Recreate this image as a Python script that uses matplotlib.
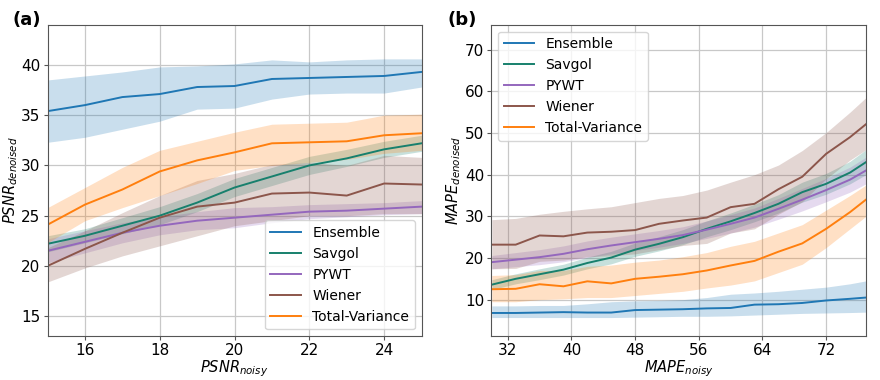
import numpy as np
import matplotlib.pyplot as plt

methods = ['Ensemble', 'Savgol', 'PYWT', 'Wiener', 'Total-Variance']
colors = ['#1f77b4', '#17806d', '#9467bd', '#8c564b', '#ff7f0e']

# (a) PSNR
psnr_noisy = [15, 16, 17, 18, 19, 20, 21, 22, 23, 24, 25]
psnr_mean = {
    'Ensemble':       [35.4, 36.0, 36.8, 37.1, 37.8, 37.9, 38.6, 38.7, 38.8, 38.9, 39.3],
    'Savgol':         [22.2, 23.0, 24.0, 25.0, 26.3, 27.8, 28.9, 30.0, 30.7, 31.6, 32.2],
    'PYWT':           [21.5, 22.4, 23.3, 24.0, 24.5, 24.8, 25.1, 25.4, 25.5, 25.7, 25.9],
    'Wiener':         [20.0, 21.7, 23.3, 24.8, 25.9, 26.3, 27.2, 27.3, 27.0, 28.2, 28.1],
    'Total-Variance': [24.1, 26.1, 27.6, 29.4, 30.5, 31.3, 32.2, 32.3, 32.4, 33.0, 33.2],
}
psnr_low = {
    'Ensemble':       [32.3, 32.8, 33.6, 34.4, 35.6, 35.7, 36.6, 37.1, 37.2, 37.2, 37.8],
    'Savgol':         [21.4, 22.3, 23.2, 24.1, 25.4, 26.9, 28.0, 29.1, 29.9, 30.8, 31.4],
    'PYWT':           [20.3, 21.3, 22.3, 23.1, 23.6, 23.8, 24.3, 24.7, 24.9, 25.1, 25.2],
    'Wiener':         [18.4, 19.8, 21.0, 22.0, 23.0, 24.0, 24.5, 25.0, 25.0, 25.2, 25.2],
    'Total-Variance': [22.3, 24.5, 25.8, 27.0, 28.2, 29.5, 30.0, 30.3, 30.6, 31.2, 31.5],
}
psnr_high = {
    'Ensemble':       [38.5, 38.9, 39.3, 39.8, 39.9, 40.1, 40.5, 40.3, 40.5, 40.6, 40.6],
    'Savgol':         [23.0, 23.7, 24.8, 25.9, 27.2, 28.7, 29.8, 30.9, 31.6, 32.4, 33.0],
    'PYWT':           [22.7, 23.5, 24.3, 24.9, 25.4, 25.8, 25.9, 26.1, 26.2, 26.3, 26.5],
    'Wiener':         [21.8, 23.5, 25.3, 27.0, 28.5, 29.2, 30.1, 30.3, 30.0, 31.0, 30.8],
    'Total-Variance': [25.8, 27.8, 29.8, 31.5, 32.4, 33.3, 34.1, 34.2, 34.3, 35.0, 35.1],
}

# (b) MAPE
mape_noisy = [30, 33, 36, 39, 42, 45, 48, 51, 54, 57, 60, 63, 66, 69, 72, 75, 77]
mape_mean = {
    'Ensemble':       [6.8, 6.8, 6.9, 7.0, 6.9, 6.9, 7.5, 7.6, 7.7, 7.9, 8.0, 8.8, 8.9, 9.2, 9.8, 10.2, 10.5],
    'Savgol':         [13.6, 15.0, 16.1, 17.2, 18.8, 20.1, 22.0, 23.4, 25.0, 27.0, 28.8, 30.8, 33.0, 35.8, 37.8, 40.5, 43.0],
    'PYWT':           [19.0, 19.6, 20.2, 21.0, 22.1, 23.0, 23.8, 24.6, 25.5, 26.8, 28.2, 29.7, 31.8, 34.0, 36.3, 38.8, 41.0],
    'Wiener':         [23.2, 23.2, 25.4, 25.2, 26.1, 26.3, 26.7, 28.2, 29.0, 29.7, 32.2, 33.0, 36.5, 39.5, 45.0, 49.0, 52.1],
    'Total-Variance': [12.5, 12.6, 13.7, 13.2, 14.4, 13.9, 15.0, 15.5, 16.1, 17.0, 18.2, 19.3, 21.5, 23.5, 27.0, 31.0, 34.0],
}
mape_low = {
    'Ensemble':       [5.7, 5.7, 5.7, 5.7, 5.7, 5.7, 5.8, 5.9, 6.0, 6.0, 6.1, 6.3, 6.5, 6.7, 6.8, 6.9, 7.0],
    'Savgol':         [12.4, 13.8, 14.8, 15.9, 17.4, 18.6, 20.4, 21.7, 23.2, 25.1, 26.8, 28.7, 30.8, 33.4, 35.3, 37.8, 40.0],
    'PYWT':           [17.4, 17.9, 18.4, 19.1, 20.1, 21.0, 21.8, 22.6, 23.5, 24.7, 26.0, 27.4, 29.3, 31.3, 33.5, 35.8, 37.8],
    'Wiener':         [17.4, 17.5, 19.2, 19.5, 20.3, 20.5, 21.0, 22.0, 23.0, 23.5, 26.0, 27.0, 30.5, 33.5, 39.0, 43.5, 46.0],
    'Total-Variance': [9.5, 9.5, 10.0, 10.2, 10.5, 10.5, 11.0, 11.5, 12.0, 12.8, 13.5, 14.5, 16.5, 18.5, 22.5, 27.0, 30.0],
}
mape_high = {
    'Ensemble':       [8.5, 8.5, 8.6, 8.6, 9.0, 9.5, 9.7, 9.8, 10.0, 10.5, 11.3, 11.6, 12.0, 12.5, 13.0, 13.8, 14.5],
    'Savgol':         [14.8, 16.2, 17.4, 18.5, 20.2, 21.6, 23.6, 25.1, 26.8, 28.9, 30.8, 32.9, 35.2, 38.2, 40.3, 43.2, 46.0],
    'PYWT':           [20.6, 21.3, 22.0, 22.9, 24.1, 25.0, 25.8, 26.6, 27.5, 28.9, 30.4, 32.0, 34.3, 36.7, 39.1, 41.8, 44.2],
    'Wiener':         [29.2, 29.5, 30.5, 31.2, 31.8, 32.3, 33.3, 34.3, 35.0, 36.3, 38.2, 40.0, 42.3, 45.8, 50.1, 55.0, 58.5],
    'Total-Variance': [15.8, 16.0, 17.0, 17.0, 18.0, 18.3, 19.0, 19.5, 20.3, 21.3, 22.8, 24.0, 26.0, 28.0, 31.5, 35.0, 37.5],
}

plt.rcParams['font.family'] = 'DejaVu Sans'
fig = plt.figure(figsize=(8.8, 3.8), dpi=100)
ax1 = fig.add_axes([0.054, 0.115, 0.425, 0.82])
ax2 = fig.add_axes([0.558, 0.115, 0.426, 0.82])

for ax, x, mean, low, high in [(ax1, psnr_noisy, psnr_mean, psnr_low, psnr_high),
                               (ax2, mape_noisy, mape_mean, mape_low, mape_high)]:
    for m, c in zip(methods, colors):
        ax.fill_between(x, low[m], high[m], color=c, alpha=0.24, linewidth=0)
        ax.plot(x, mean[m], color=c, lw=1.4, label=m)
    ax.grid(True, color='#c8c8c8', lw=0.9)
    ax.set_axisbelow(True)
    ax.tick_params(labelsize=11, length=3, pad=2, color='#555555')
    for s in ax.spines.values():
        s.set_color('#555555')

ax1.set_xlim(15, 25)
ax1.set_ylim(13, 44)
ax1.set_xticks([16, 18, 20, 22, 24])
ax1.set_yticks([15, 20, 25, 30, 35, 40])
ax1.set_xlabel('$PSNR_{noisy}$', fontsize=10.5, labelpad=0)
ax1.set_ylabel('$PSNR_{denoised}$', fontsize=10.5, labelpad=1)
ax1.legend(loc='lower right', fontsize=10, handlelength=2.2)
fig.text(0.014, 0.935, '(a)', fontsize=13, fontweight='bold')

ax2.set_xlim(29.9, 77)
ax2.set_ylim(1.2, 76)
ax2.set_xticks([32, 40, 48, 56, 64, 72])
ax2.set_yticks([10, 20, 30, 40, 50, 60, 70])
ax2.set_xlabel('$MAPE_{noisy}$', fontsize=10.5, labelpad=0)
ax2.set_ylabel('$MAPE_{denoised}$', fontsize=10.5, labelpad=1)
ax2.legend(loc='upper left', fontsize=10, handlelength=2.2)
fig.text(0.508, 0.935, '(b)', fontsize=13, fontweight='bold')

plt.savefig('out.png', dpi=100)
